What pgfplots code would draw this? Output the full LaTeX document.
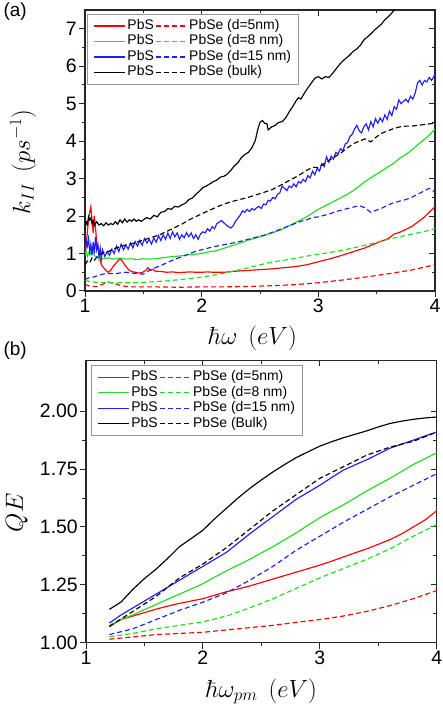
\documentclass[border=0pt]{standalone}
\usepackage[no-math]{fontspec}
\setmainfont{Liberation Sans}
\usepackage{pgfplots}
\pgfplotsset{compat=1.18}
\definecolor{cred}{RGB}{255,0,0}
\definecolor{cgreen}{RGB}{30,222,30}
\definecolor{cblue}{RGB}{30,30,255}
\definecolor{legframe}{RGB}{150,150,150}
\pgfplotsset{legend image code/.code={\draw[#1, line width=1.4bp] (0bp,0bp) -- (31bp,0bp);}}
\pgfplotsset{
  base/.style={
    scale only axis,
    anchor=south west,
    axis line style={line width=1.2bp, black!85},
    major tick length=6bp, minor tick length=3.5bp,
    every tick/.style={line width=1bp, black!85},
    /pgf/number format/assume math mode=true,
    tick label style={font=\fontsize{19.5}{22}\selectfont, inner sep=2bp},
    minor x tick num=1,
    clip=true,
  },
  mirror/.style={
    base,
    tick pos=right,
    tick align=inside,
    xticklabels={}, yticklabels={},
  },
  main/.style={
    base,
    tick pos=left,
    tick align=outside,
    label style={font=\fontsize{27}{30}\selectfont, inner sep=0pt},
    legend columns=2,
    legend cell align=left,
    legend style={draw=legframe, line width=0.9bp, fill=white,
      font=\fontsize{14}{16}\selectfont,
      inner xsep=6bp, inner ysep=4bp,
      nodes={inner xsep=1.5bp, inner ysep=1bp, text height=10bp, text depth=3.5bp}},
    every axis plot/.append style={line width=1.15bp},
  },
  sol/.style={solid},
  dsh/.style={dash pattern=on 5bp off 3bp},
}
\begin{document}
\begin{tikzpicture}
\path[use as bounding box] (0,0) rectangle (443bp,704bp);
\node[anchor=west, font=\fontsize{19}{22}\selectfont] at (0bp,692bp) {(a)};
\node[anchor=west, font=\fontsize{19}{22}\selectfont] at (0bp,353bp) {(b)};
% ---------------- panel (a) ----------------
\begin{axis}[mirror, at={(85bp,413bp)}, width=350bp, height=281bp,
  xmin=1, xmax=4, ymin=0, ymax=7.5, xtick={1,2,3,4}, ytick={0,1,...,7}, minor y tick num=1]
\end{axis}
\begin{axis}[main, at={(85bp,413bp)}, width=350bp, height=281bp,
  xmin=1, xmax=4, ymin=0, ymax=7.5, xtick={1,2,3,4}, ytick={0,1,...,7}, minor y tick num=1,
  xlabel={$\hbar\omega\;\,(eV)$}, ylabel={$k_{II}\;\,(ps^{-1})$},
  xlabel style={at={(axis description cs:0.479,-0.190)}, anchor=base},
  ylabel style={at={(axis description cs:-0.177,0.46)}, anchor=center, rotate=0},
  legend style={at={(axis description cs:0.006,0.986)}, anchor=north west},
]
\addplot[cred, sol] coordinates {(1.00,0.95)(1.01,1.20)(1.02,1.55)(1.03,1.90)(1.04,2.10)(1.05,2.25)(1.06,1.90)(1.07,1.55)(1.08,2.00)(1.09,1.70)(1.10,1.30)(1.11,1.20)(1.12,1.05)(1.13,0.85)(1.14,0.70)(1.16,0.62)(1.18,0.55)(1.20,0.50)(1.22,0.55)(1.24,0.65)(1.26,0.72)(1.28,0.80)(1.30,0.86)(1.32,0.80)(1.34,0.70)(1.36,0.62)(1.38,0.55)(1.40,0.52)(1.43,0.50)(1.46,0.48)(1.49,0.49)(1.52,0.55)(1.54,0.62)(1.56,0.55)(1.58,0.58)(1.60,0.53)(1.65,0.52)(1.70,0.50)(1.75,0.51)(1.80,0.49)(1.85,0.50)(1.90,0.51)(1.95,0.50)(2.00,0.50)(2.05,0.51)(2.10,0.50)(2.15,0.50)(2.20,0.50)(2.25,0.52)(2.30,0.53)(2.35,0.54)(2.40,0.55)(2.50,0.57)(2.60,0.59)(2.70,0.62)(2.80,0.65)(2.90,0.70)(3.00,0.78)(3.10,0.86)(3.20,0.95)(3.30,1.05)(3.40,1.15)(3.50,1.28)(3.60,1.40)(3.65,1.52)(3.70,1.57)(3.80,1.72)(3.90,1.95)(4.00,2.25)};
\addlegendentry{PbS}
\addplot[cred, dsh] coordinates {(1.00,0.18)(1.02,0.15)(1.05,0.12)(1.10,0.12)(1.15,0.18)(1.20,0.24)(1.25,0.20)(1.30,0.15)(1.35,0.12)(1.40,0.11)(1.60,0.11)(1.80,0.10)(2.00,0.11)(2.20,0.11)(2.40,0.12)(2.60,0.14)(2.80,0.17)(3.00,0.22)(3.20,0.29)(3.40,0.37)(3.60,0.46)(3.80,0.56)(4.00,0.70)};
\addlegendentry{PbSe (d=5nm)}
\addplot[cgreen, sol] coordinates {(1.00,0.95)(1.01,1.05)(1.02,0.92)(1.03,1.00)(1.04,1.08)(1.05,0.98)(1.06,1.05)(1.08,0.95)(1.10,0.90)(1.12,0.88)(1.15,0.86)(1.20,0.88)(1.25,0.85)(1.30,0.88)(1.35,0.85)(1.40,0.86)(1.45,0.84)(1.50,0.86)(1.55,0.85)(1.60,0.86)(1.65,0.88)(1.70,0.90)(1.75,0.92)(1.80,0.93)(1.85,0.95)(1.90,0.97)(1.95,0.98)(2.00,1.00)(2.05,1.04)(2.10,1.06)(2.15,1.10)(2.20,1.15)(2.25,1.20)(2.30,1.25)(2.35,1.30)(2.40,1.36)(2.45,1.40)(2.50,1.45)(2.55,1.50)(2.60,1.55)(2.65,1.60)(2.70,1.66)(2.75,1.74)(2.80,1.82)(2.85,1.90)(2.90,1.98)(2.95,2.08)(3.00,2.18)(3.05,2.26)(3.10,2.34)(3.15,2.42)(3.20,2.50)(3.25,2.58)(3.30,2.68)(3.35,2.80)(3.40,2.92)(3.45,3.02)(3.50,3.12)(3.55,3.22)(3.60,3.32)(3.65,3.42)(3.70,3.55)(3.75,3.64)(3.80,3.76)(3.85,3.90)(3.90,4.02)(3.95,4.16)(4.00,4.32)};
\addlegendentry{PbS}
\addplot[cgreen, dsh] coordinates {(1.00,0.28)(1.05,0.25)(1.10,0.23)(1.20,0.22)(1.30,0.22)(1.40,0.22)(1.50,0.23)(1.60,0.25)(1.70,0.27)(1.80,0.30)(1.90,0.33)(2.00,0.37)(2.10,0.42)(2.20,0.48)(2.30,0.55)(2.40,0.62)(2.50,0.70)(2.60,0.77)(2.70,0.82)(2.80,0.87)(2.90,0.93)(3.00,0.98)(3.10,1.03)(3.20,1.08)(3.30,1.15)(3.40,1.22)(3.50,1.30)(3.60,1.38)(3.70,1.45)(3.80,1.52)(3.90,1.58)(4.00,1.66)};
\addlegendentry{PbSe (d=8 nm)}
\addplot[cblue, sol] coordinates {(1.00,1.10)(1.01,1.35)(1.02,1.20)(1.03,1.40)(1.04,1.05)(1.05,1.25)(1.06,0.95)(1.07,1.30)(1.08,1.00)(1.09,1.45)(1.10,1.10)(1.11,1.25)(1.12,0.90)(1.13,1.15)(1.14,0.85)(1.15,1.10)(1.17,0.92)(1.19,1.05)(1.21,0.95)(1.23,1.12)(1.25,1.00)(1.27,1.20)(1.29,1.05)(1.31,1.25)(1.33,1.10)(1.35,1.22)(1.37,1.12)(1.39,1.28)(1.41,1.15)(1.43,1.32)(1.45,1.20)(1.47,1.35)(1.49,1.22)(1.51,1.40)(1.53,1.28)(1.55,1.38)(1.57,1.25)(1.59,1.42)(1.61,1.30)(1.63,1.48)(1.65,1.35)(1.67,1.50)(1.69,1.38)(1.71,1.55)(1.73,1.40)(1.75,1.58)(1.77,1.45)(1.79,1.55)(1.81,1.38)(1.83,1.50)(1.85,1.42)(1.87,1.56)(1.89,1.45)(1.91,1.55)(1.93,1.40)(1.95,1.50)(1.97,1.38)(1.99,1.52)(2.01,1.58)(2.03,1.55)(2.05,1.66)(2.07,1.60)(2.09,1.72)(2.11,1.66)(2.13,1.80)(2.15,1.84)(2.17,1.88)(2.19,1.82)(2.21,1.76)(2.23,1.72)(2.25,1.68)(2.27,1.74)(2.29,1.86)(2.31,1.94)(2.33,2.02)(2.35,2.14)(2.37,2.10)(2.39,2.18)(2.41,2.12)(2.43,2.20)(2.45,2.16)(2.47,2.22)(2.49,2.26)(2.51,2.20)(2.53,2.32)(2.55,2.30)(2.57,2.42)(2.59,2.40)(2.61,2.50)(2.63,2.46)(2.65,2.58)(2.67,2.62)(2.69,2.80)(2.71,2.74)(2.73,2.68)(2.75,2.80)(2.77,2.76)(2.79,2.86)(2.81,2.78)(2.83,2.92)(2.85,2.88)(2.87,2.98)(2.89,2.92)(2.91,3.08)(2.93,3.02)(2.95,3.20)(2.97,3.10)(2.99,3.28)(3.01,3.20)(3.03,3.40)(3.05,3.32)(3.07,3.58)(3.09,3.44)(3.11,3.60)(3.13,3.52)(3.15,3.70)(3.17,3.66)(3.19,3.80)(3.21,3.74)(3.23,3.92)(3.25,3.96)(3.27,4.12)(3.29,4.18)(3.31,4.32)(3.33,4.42)(3.35,4.28)(3.37,4.22)(3.39,4.38)(3.41,4.46)(3.43,4.30)(3.45,4.52)(3.47,4.38)(3.49,4.60)(3.51,4.48)(3.53,4.62)(3.55,4.52)(3.57,4.70)(3.59,4.58)(3.61,4.80)(3.63,4.68)(3.65,4.92)(3.67,4.85)(3.69,5.10)(3.71,5.00)(3.73,5.06)(3.75,5.12)(3.77,5.04)(3.79,5.20)(3.81,5.12)(3.83,5.28)(3.85,5.55)(3.87,5.62)(3.89,5.50)(3.91,5.62)(3.93,5.58)(3.95,5.70)(3.97,5.62)(3.99,5.72)(4.00,5.82)};
\addlegendentry{PbS}
\addplot[cblue, dsh] coordinates {(1.00,0.30)(1.03,0.35)(1.06,0.36)(1.10,0.40)(1.15,0.45)(1.20,0.47)(1.25,0.46)(1.30,0.48)(1.35,0.50)(1.40,0.48)(1.45,0.46)(1.50,0.45)(1.55,0.55)(1.60,0.62)(1.65,0.68)(1.70,0.75)(1.75,0.82)(1.80,0.88)(1.85,0.94)(1.90,1.00)(1.95,1.06)(2.00,1.10)(2.05,1.14)(2.10,1.18)(2.15,1.21)(2.20,1.24)(2.25,1.27)(2.30,1.30)(2.35,1.34)(2.40,1.38)(2.45,1.42)(2.50,1.46)(2.55,1.50)(2.60,1.56)(2.65,1.62)(2.70,1.68)(2.75,1.74)(2.80,1.80)(2.85,1.86)(2.90,1.90)(2.95,1.96)(3.00,1.98)(3.05,2.02)(3.10,2.06)(3.15,2.12)(3.20,2.16)(3.25,2.20)(3.30,2.24)(3.35,2.28)(3.40,2.22)(3.45,2.10)(3.50,2.16)(3.55,2.22)(3.60,2.30)(3.65,2.36)(3.70,2.40)(3.75,2.44)(3.80,2.50)(3.85,2.58)(3.90,2.66)(3.95,2.74)(4.00,2.64)};
\addlegendentry{PbSe (d=15 nm)}
\addplot[black, sol] coordinates {(1.00,1.62)(1.01,1.85)(1.02,1.78)(1.03,1.98)(1.04,1.90)(1.05,1.95)(1.06,1.80)(1.07,1.88)(1.08,1.75)(1.10,1.85)(1.12,1.76)(1.14,1.80)(1.16,1.74)(1.18,1.82)(1.20,1.76)(1.22,1.80)(1.24,1.77)(1.26,1.85)(1.28,1.78)(1.30,1.90)(1.32,1.82)(1.34,1.92)(1.36,1.84)(1.38,1.90)(1.40,1.86)(1.42,1.92)(1.44,1.86)(1.46,1.90)(1.48,1.86)(1.50,1.90)(1.53,1.96)(1.56,1.92)(1.59,2.02)(1.62,1.98)(1.65,2.10)(1.68,2.12)(1.71,2.20)(1.74,2.18)(1.77,2.26)(1.80,2.24)(1.83,2.30)(1.86,2.34)(1.89,2.44)(1.92,2.48)(1.95,2.58)(1.98,2.66)(2.01,2.76)(2.04,2.80)(2.07,2.86)(2.10,2.92)(2.13,2.96)(2.16,3.04)(2.19,3.06)(2.22,3.12)(2.25,3.22)(2.28,3.34)(2.31,3.42)(2.34,3.56)(2.37,3.64)(2.40,3.70)(2.43,3.82)(2.46,4.02)(2.48,4.30)(2.50,4.50)(2.52,4.55)(2.54,4.48)(2.56,4.46)(2.57,4.30)(2.60,4.38)(2.63,4.42)(2.66,4.50)(2.69,4.52)(2.72,4.62)(2.75,4.78)(2.78,4.92)(2.81,5.08)(2.83,5.16)(2.85,5.12)(2.88,5.28)(2.91,5.42)(2.94,5.55)(2.97,5.68)(3.00,5.72)(3.03,5.66)(3.06,5.72)(3.09,5.70)(3.12,5.80)(3.15,5.92)(3.18,6.04)(3.21,6.14)(3.24,6.22)(3.27,6.30)(3.30,6.40)(3.33,6.46)(3.36,6.56)(3.39,6.70)(3.42,6.78)(3.45,6.86)(3.48,6.96)(3.51,7.04)(3.54,7.12)(3.57,7.24)(3.60,7.32)(3.63,7.42)(3.66,7.55)};
\addlegendentry{PbS}
\addplot[black, dsh] coordinates {(1.00,0.70)(1.02,0.80)(1.04,0.75)(1.06,0.88)(1.08,0.82)(1.10,0.90)(1.12,0.95)(1.14,1.00)(1.16,1.02)(1.18,1.06)(1.20,1.05)(1.24,1.12)(1.28,1.16)(1.32,1.20)(1.36,1.24)(1.40,1.26)(1.44,1.30)(1.48,1.34)(1.52,1.38)(1.56,1.42)(1.60,1.46)(1.64,1.50)(1.68,1.56)(1.72,1.62)(1.76,1.68)(1.80,1.74)(1.84,1.80)(1.88,1.88)(1.92,1.94)(1.96,2.00)(2.00,2.06)(2.05,2.13)(2.10,2.20)(2.15,2.27)(2.20,2.33)(2.25,2.38)(2.30,2.42)(2.35,2.46)(2.40,2.50)(2.45,2.55)(2.50,2.60)(2.55,2.65)(2.60,2.70)(2.65,2.78)(2.70,2.86)(2.75,2.95)(2.80,3.03)(2.85,3.12)(2.90,3.22)(2.95,3.30)(3.00,3.30)(3.05,3.40)(3.10,3.50)(3.15,3.60)(3.20,3.70)(3.25,3.82)(3.30,3.93)(3.35,4.00)(3.40,4.06)(3.45,3.98)(3.50,4.12)(3.55,4.22)(3.60,4.28)(3.65,4.34)(3.70,4.38)(3.75,4.40)(3.80,4.40)(3.85,4.42)(3.90,4.44)(3.95,4.46)(4.00,4.48)};
\addlegendentry{PbSe (bulk)}
\end{axis}
% ---------------- panel (b) ----------------
\begin{axis}[mirror, at={(86bp,61.3bp)}, width=350.7bp, height=282.4bp,
  xmin=1, xmax=4, ymin=1, ymax=2.22, xtick={1,2,3,4}, ytick={1,1.25,1.5,1.75,2}, minor y tick num=1]
\end{axis}
\begin{axis}[main, at={(86bp,61.3bp)}, width=350.7bp, height=282.4bp,
  xmin=1, xmax=4, ymin=1, ymax=2.22, xtick={1,2,3,4}, ytick={1,1.25,1.5,1.75,2}, minor y tick num=1,
  yticklabel style={/pgf/number format/.cd, fixed, fixed zerofill, precision=2},
  xlabel={$\hbar\omega_{pm}\;\,(eV)$}, ylabel={$QE$},
  xlabel style={at={(axis description cs:0.50,-0.193)}, anchor=base},
  ylabel style={at={(axis description cs:-0.197,0.46)}, anchor=center},
  legend style={at={(axis description cs:0.014,0.983)}, anchor=north west},
]
\addplot[cred, sol] coordinates {(1.2,1.070)(1.3,1.100)(1.4,1.115)(1.5,1.130)(1.6,1.145)(1.7,1.158)(1.8,1.170)(1.9,1.180)(2.0,1.190)(2.1,1.205)(2.2,1.220)(2.3,1.232)(2.4,1.245)(2.5,1.260)(2.6,1.275)(2.7,1.290)(2.8,1.305)(2.9,1.320)(3.0,1.335)(3.1,1.352)(3.2,1.370)(3.3,1.388)(3.4,1.405)(3.5,1.425)(3.6,1.445)(3.7,1.470)(3.8,1.500)(3.9,1.530)(4.0,1.570)};
\addlegendentry{PbS}
\addplot[cred, dsh] coordinates {(1.2,1.015)(1.4,1.025)(1.6,1.035)(1.8,1.040)(2.0,1.045)(2.2,1.055)(2.4,1.065)(2.6,1.075)(2.8,1.088)(3.0,1.100)(3.2,1.115)(3.4,1.135)(3.6,1.160)(3.8,1.190)(4.0,1.225)};
\addlegendentry{PbSe (d=5nm)}
\addplot[cgreen, sol] coordinates {(1.2,1.075)(1.3,1.100)(1.4,1.120)(1.5,1.143)(1.6,1.165)(1.7,1.188)(1.8,1.210)(1.9,1.232)(2.0,1.255)(2.1,1.283)(2.2,1.310)(2.3,1.335)(2.4,1.360)(2.5,1.388)(2.6,1.415)(2.7,1.445)(2.8,1.475)(2.9,1.508)(3.0,1.540)(3.1,1.568)(3.2,1.595)(3.3,1.625)(3.4,1.655)(3.5,1.683)(3.6,1.710)(3.7,1.740)(3.8,1.770)(3.9,1.795)(4.0,1.820)};
\addlegendentry{PbS}
\addplot[cgreen, dsh] coordinates {(1.2,1.025)(1.4,1.040)(1.6,1.060)(1.8,1.075)(2.0,1.090)(2.2,1.115)(2.4,1.150)(2.6,1.190)(2.8,1.235)(3.0,1.280)(3.2,1.320)(3.4,1.360)(3.6,1.405)(3.8,1.460)(4.0,1.510)};
\addlegendentry{PbSe (d=8 nm)}
\addplot[cblue, sol] coordinates {(1.2,1.085)(1.3,1.120)(1.4,1.150)(1.5,1.180)(1.6,1.210)(1.7,1.240)(1.8,1.270)(1.9,1.300)(2.0,1.330)(2.1,1.360)(2.2,1.390)(2.3,1.430)(2.4,1.470)(2.5,1.508)(2.6,1.545)(2.7,1.583)(2.8,1.620)(2.9,1.650)(3.0,1.680)(3.1,1.713)(3.2,1.745)(3.3,1.768)(3.4,1.790)(3.5,1.815)(3.6,1.840)(3.7,1.858)(3.8,1.875)(3.9,1.893)(4.0,1.910)};
\addlegendentry{PbS}
\addplot[cblue, dsh] coordinates {(1.2,1.035)(1.4,1.060)(1.6,1.100)(1.8,1.140)(2.0,1.175)(2.2,1.215)(2.4,1.270)(2.6,1.330)(2.8,1.400)(3.0,1.460)(3.2,1.520)(3.4,1.575)(3.6,1.630)(3.8,1.680)(4.0,1.730)};
\addlegendentry{PbSe (d=15 nm)}
\addplot[black, sol] coordinates {(1.2,1.144)(1.3,1.176)(1.4,1.230)(1.5,1.277)(1.6,1.318)(1.7,1.365)(1.8,1.415)(1.9,1.450)(2.0,1.486)(2.1,1.535)(2.2,1.580)(2.3,1.625)(2.4,1.666)(2.5,1.703)(2.6,1.738)(2.7,1.770)(2.8,1.800)(2.9,1.825)(3.0,1.849)(3.1,1.868)(3.2,1.885)(3.3,1.900)(3.4,1.915)(3.5,1.932)(3.6,1.947)(3.7,1.957)(3.8,1.965)(3.9,1.971)(4.0,1.975)};
\addlegendentry{PbS}
\addplot[black, dsh] coordinates {(1.2,1.070)(1.4,1.135)(1.6,1.200)(1.8,1.280)(2.0,1.340)(2.2,1.410)(2.4,1.490)(2.6,1.570)(2.8,1.640)(3.0,1.710)(3.2,1.760)(3.4,1.810)(3.6,1.845)(3.8,1.870)(4.0,1.910)};
\addlegendentry{PbSe (Bulk)}
\end{axis}
\end{tikzpicture}
\end{document}
